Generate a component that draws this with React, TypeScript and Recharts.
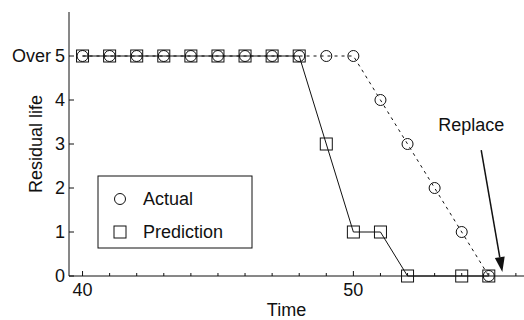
import { LineChart, Line, XAxis, YAxis, ReferenceLine } from 'recharts';

const time = [40, 41, 42, 43, 44, 45, 46, 47, 48, 49, 50, 51, 52, 53, 54, 55];
const actual = [5, 5, 5, 5, 5, 5, 5, 5, 5, 5, 5, 4, 3, 2, 1, 0];
const prediction = [5, 5, 5, 5, 5, 5, 5, 5, 5, 3, 1, 1, 0, null, 0, 0];
const xTicks = [40, 41, 42, 43, 44, 45, 46, 47, 48, 49, 50, 51, 52, 53, 54, 55, 56];
const xLabels = [40, 50];
const yTicks = [0, 1, 2, 3, 4, 5];
const replaceArrow = [
  { x: 54.72, y: 2.86 },
  { x: 55.5, y: 0.09 },
];

const data = time.map((t, i) => ({ time: t, actual: actual[i], prediction: prediction[i] }));

const INK = '#111';
const FONT = '"Liberation Sans", Arial, sans-serif';

function Circle(props: any) {
  const { cx, cy } = props;
  if (cx == null || cy == null) return null;
  return <circle cx={cx} cy={cy} r={5.5} fill="none" stroke={INK} strokeWidth={1} />;
}

function Square(props: any) {
  const { cx, cy, value } = props;
  if (cx == null || cy == null || value == null) return null;
  return <rect x={cx - 6} y={cy - 6} width={12} height={12} fill="none" stroke={INK} strokeWidth={1} />;
}

function BottomTick({ x, y, payload }: any) {
  const major = xLabels.includes(payload.value);
  return (
    <g>
      <line x1={x} y1={y} x2={x} y2={y - (major ? 5 : 3)} stroke={INK} />
      {major && (
        <text x={x} y={y + 20} textAnchor="middle" fontSize={18} fill={INK} fontFamily={FONT}>
          {payload.value}
        </text>
      )}
    </g>
  );
}

function TopTick({ x, y, payload }: any) {
  const major = xLabels.includes(payload.value);
  return <line x1={x} y1={y} x2={x} y2={y + (major ? 5 : 3)} stroke={INK} />;
}

function LeftTick({ x, y, payload }: any) {
  return (
    <g>
      <line x1={x} y1={y} x2={x + 5} y2={y} stroke={INK} />
      <text x={x - 4} y={y + 6} textAnchor="end" fontSize={18} fill={INK} fontFamily={FONT}>
        {payload.value}
      </text>
      {payload.value === 5 && (
        <text x={x - 18} y={y + 6} textAnchor="end" fontSize={18} fill={INK} fontFamily={FONT}>
          Over
        </text>
      )}
    </g>
  );
}

function ArrowShape(props: any) {
  const { x1, y1, x2, y2 } = props;
  if (x1 == null) return null;
  const dx = x2 - x1;
  const dy = y2 - y1;
  const len = Math.sqrt(dx * dx + dy * dy);
  const ux = dx / len;
  const uy = dy / len;
  const hl = 15;
  const hw = 5;
  const bx = x2 - ux * hl;
  const by = y2 - uy * hl;
  return (
    <g>
      <line x1={x1} y1={y1} x2={bx} y2={by} stroke={INK} strokeWidth={1.5} />
      <polygon
        points={`${x2},${y2} ${bx - uy * hw},${by + ux * hw} ${bx + uy * hw},${by - ux * hw}`}
        fill={INK}
      />
      <text x={x1 - 43} y={y1 - 19} fontSize={18} fill={INK} fontFamily={FONT}>
        Replace
      </text>
    </g>
  );
}

function LegendBox() {
  return (
    <svg width={156} height={74} style={{ position: 'absolute', left: 97, top: 175 }}>
      <rect x={1} y={1} width={154} height={72} fill="#fff" stroke={INK} strokeWidth={1} />
      <circle cx={23} cy={24} r={5.5} fill="none" stroke={INK} />
      <text x={46} y={30} fontSize={18} fill={INK} fontFamily={FONT}>
        Actual
      </text>
      <rect x={17} y={51} width={12} height={12} fill="none" stroke={INK} />
      <text x={46} y={63} fontSize={18} fill={INK} fontFamily={FONT}>
        Prediction
      </text>
    </svg>
  );
}

function TimeLabel(props: any) {
  const { viewBox } = props;
  if (!viewBox) return null;
  return (
    <text x={viewBox.x + viewBox.width / 2 - 10} y={316} textAnchor="middle" fontSize={18} fill={INK} fontFamily={FONT}>
      Time
    </text>
  );
}

function LifeLabel(props: any) {
  const { viewBox } = props;
  if (!viewBox) return null;
  const cx = 42;
  const cy = viewBox.y + viewBox.height / 2;
  return (
    <text
      x={cx}
      y={cy}
      transform={`rotate(-90, ${cx}, ${cy})`}
      textAnchor="middle"
      fontSize={18}
      fill={INK}
      fontFamily={FONT}
    >
      Residual life
    </text>
  );
}

export default function App() {
  return (
    <div
      style={{
        position: 'absolute',
        left: 0,
        top: 0,
        width: 524,
        height: 320,
        overflow: 'hidden',
        background: '#fff',
        fontFamily: FONT,
      }}
    >
      <LineChart width={524} height={320} data={data} margin={{ top: 12, right: 0, bottom: 0, left: 0 }}>
        <XAxis
          dataKey="time"
          type="number"
          domain={[39.5, 56.3]}
          ticks={xTicks}
          allowDataOverflow
          height={44}
          tickSize={0}
          tickMargin={0}
          tickLine={false}
          axisLine={{ stroke: INK }}
          tick={<BottomTick />}
          interval={0}
          label={<TimeLabel />}
        />
        <XAxis
          xAxisId="top"
          dataKey="time"
          type="number"
          orientation="top"
          domain={[39.5, 56.3]}
          ticks={xTicks}
          allowDataOverflow
          height={0}
          tickSize={0}
          tickMargin={0}
          tickLine={false}
          axisLine={{ stroke: INK }}
          tick={<TopTick />}
          interval={0}
        />
        <YAxis
          type="number"
          domain={[0, 6]}
          ticks={yTicks}
          width={69}
          tickSize={0}
          tickMargin={0}
          tickLine={false}
          axisLine={{ stroke: INK }}
          tick={<LeftTick />}
          interval={0}
          label={<LifeLabel />}
        />
        <Line
          dataKey="prediction"
          type="linear"
          stroke={INK}
          strokeWidth={1}
          connectNulls
          dot={<Square />}
          activeDot={false}
          isAnimationActive={false}
        />
        <Line
          dataKey="actual"
          type="linear"
          stroke={INK}
          strokeWidth={1}
          strokeDasharray="3 4"
          dot={<Circle />}
          activeDot={false}
          isAnimationActive={false}
        />
        <ReferenceLine segment={replaceArrow} ifOverflow="visible" shape={<ArrowShape />} />
      </LineChart>
      <LegendBox />
    </div>
  );
}
